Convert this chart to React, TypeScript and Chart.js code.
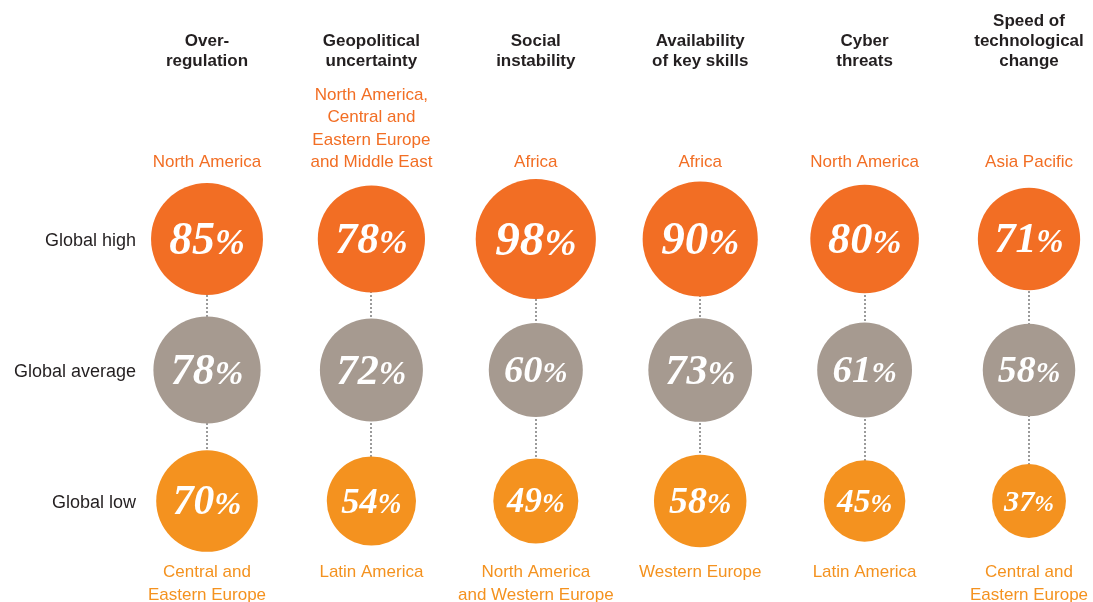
import React, { useEffect, useRef } from 'react';
import { Chart, registerables } from 'chart.js';

Chart.register(...registerables);

// ---------- data ----------
const CATEGORIES = [
  'Over-\nregulation',
  'Geopolitical\nuncertainty',
  'Social\ninstability',
  'Availability\nof key skills',
  'Cyber\nthreats',
  'Speed of\ntechnological\nchange',
];
const ROW_LABELS = ['Global high', 'Global average', 'Global low'];
const HIGH = [85, 78, 98, 90, 80, 71];
const AVERAGE = [78, 72, 60, 73, 61, 58];
const LOW = [70, 54, 49, 58, 45, 37];
const HIGH_REGIONS = [
  'North America',
  'North America,\nCentral and\nEastern Europe\nand Middle East',
  'Africa',
  'Africa',
  'North America',
  'Asia Pacific',
];
const LOW_REGIONS = [
  'Central and\nEastern Europe',
  'Latin America',
  'North America\nand Western Europe',
  'Western Europe',
  'Latin America',
  'Central and\nEastern Europe',
];

// ---------- style ----------
const W = 1093;
const H = 602;
const COLORS = ['#F26E24', '#A69A90', '#F4921F'];
const HIGH_LABEL_COLOR = '#F26E24';
const LOW_LABEL_COLOR = '#F4921F';
const TEXT_DARK = '#231F20';
const RADIUS_K = 6.07; // bubble radius = K * sqrt(value)
const SANS = '"Liberation Sans", Arial, Helvetica, sans-serif';
const SERIF = '"Liberation Serif", "Times New Roman", serif';

// layout (pixels per unit and first column / row position)
const COL_STEP = 164.4;
const COL0 = 207;
const ROW_STEP = 131;
const ROW0 = 239;

const rows = [HIGH, AVERAGE, LOW];

const labelsPlugin = {
  id: 'labelsPlugin',
  beforeDatasetsDraw(chart: any) {
    const { ctx, scales } = chart;
    const xs = scales.x;
    const ys = scales.y;
    ctx.save();
    ctx.strokeStyle = '#9B9B9B';
    ctx.lineWidth = 2;
    ctx.setLineDash([2, 2]);
    CATEGORIES.forEach((_, c) => {
      const x = Math.round(xs.getPixelForValue(c));
      ctx.beginPath();
      ctx.moveTo(x, ys.getPixelForValue(0));
      ctx.lineTo(x, ys.getPixelForValue(rows.length - 1));
      ctx.stroke();
    });
    ctx.restore();
  },
  afterDatasetsDraw(chart: any) {
    const { ctx, scales } = chart;
    const xs = scales.x;
    const ys = scales.y;
    ctx.save();

    // values inside circles
    chart.data.datasets.forEach((ds: any, di: number) => {
      const meta = chart.getDatasetMeta(di);
      meta.data.forEach((el: any, i: number) => {
        const v = ds.data[i].v;
        const r = ds.data[i].r;
        const fs = r * 0.82;
        const ps = fs * 0.78;
        const num = String(v);
        ctx.font = `italic bold ${fs}px ${SERIF}`;
        const wn = ctx.measureText(num).width;
        ctx.font = `italic bold ${ps}px ${SERIF}`;
        const wp = ctx.measureText('%').width;
        const total = wn + wp;
        const x0 = el.x - total / 2;
        const base = el.y + fs * 0.32;
        ctx.fillStyle = '#FFFFFF';
        ctx.textAlign = 'left';
        ctx.textBaseline = 'alphabetic';
        ctx.font = `italic bold ${fs}px ${SERIF}`;
        ctx.fillText(num, x0, base);
        ctx.font = `italic bold ${ps}px ${SERIF}`;
        ctx.fillText('%', x0 + wn, base);
      });
    });

    const yHigh = ys.getPixelForValue(0);
    const yLow = ys.getPixelForValue(rows.length - 1);

    ctx.textAlign = 'center';
    ctx.textBaseline = 'alphabetic';

    // column headers (bottom aligned)
    ctx.font = `bold 17px ${SANS}`;
    ctx.fillStyle = TEXT_DARK;
    CATEGORIES.forEach((cat, c) => {
      const x = xs.getPixelForValue(c);
      const lines = cat.split('\n');
      const lastBase = yHigh - 173;
      lines.forEach((ln, k) => {
        ctx.fillText(ln, x, lastBase - (lines.length - 1 - k) * 20);
      });
    });

    // high regions (bottom aligned)
    ctx.font = `17px ${SANS}`;
    ctx.fillStyle = HIGH_LABEL_COLOR;
    HIGH_REGIONS.forEach((lab, c) => {
      const x = xs.getPixelForValue(c);
      const lines = lab.split('\n');
      const lastBase = yHigh - 72;
      lines.forEach((ln, k) => {
        ctx.fillText(ln, x, lastBase - (lines.length - 1 - k) * 22.3);
      });
    });

    // low regions (top aligned)
    ctx.fillStyle = LOW_LABEL_COLOR;
    LOW_REGIONS.forEach((lab, c) => {
      const x = xs.getPixelForValue(c);
      const lines = lab.split('\n');
      const firstBase = yLow + 76;
      lines.forEach((ln, k) => {
        ctx.fillText(ln, x, firstBase + k * 23);
      });
    });

    // row labels
    ctx.font = `18px ${SANS}`;
    ctx.fillStyle = TEXT_DARK;
    ctx.textAlign = 'right';
    const xRow = xs.getPixelForValue(0) - 71;
    ROW_LABELS.forEach((lab, r) => {
      ctx.fillText(lab, xRow, ys.getPixelForValue(r) + 6.5);
    });

    ctx.restore();
  },
};

export default function App() {
  const ref = useRef<HTMLCanvasElement | null>(null);

  useEffect(() => {
    if (!ref.current) return;
    const datasets = rows.map((vals, ri) => ({
      label: ROW_LABELS[ri],
      data: vals.map((v, c) => ({ x: c, y: ri, r: RADIUS_K * Math.sqrt(v), v })),
      backgroundColor: COLORS[ri],
      hoverBackgroundColor: COLORS[ri],
      borderWidth: 0,
      hoverBorderWidth: 0,
      hoverRadius: 0,
    }));
    const chart = new Chart(ref.current, {
      type: 'bubble',
      data: { datasets },
      options: {
        responsive: false,
        animation: false,
        devicePixelRatio: 1,
        layout: { autoPadding: false, padding: 0 },
        events: [],
        plugins: {
          legend: { display: false },
          tooltip: { enabled: false },
        },
        scales: {
          x: {
            type: 'linear',
            display: false,
            min: -COL0 / COL_STEP,
            max: (W - COL0) / COL_STEP,
          },
          y: {
            type: 'linear',
            display: false,
            reverse: true,
            min: -ROW0 / ROW_STEP,
            max: (H - ROW0) / ROW_STEP,
          },
        },
      } as any,
      plugins: [labelsPlugin],
    });
    return () => chart.destroy();
  }, []);

  return (
    <div style={{ position: 'absolute', left: 0, top: 0, width: W, height: H, background: '#fff' }}>
      <canvas ref={ref} width={W} height={H} style={{ display: 'block', width: W, height: H }} />
    </div>
  );
}
